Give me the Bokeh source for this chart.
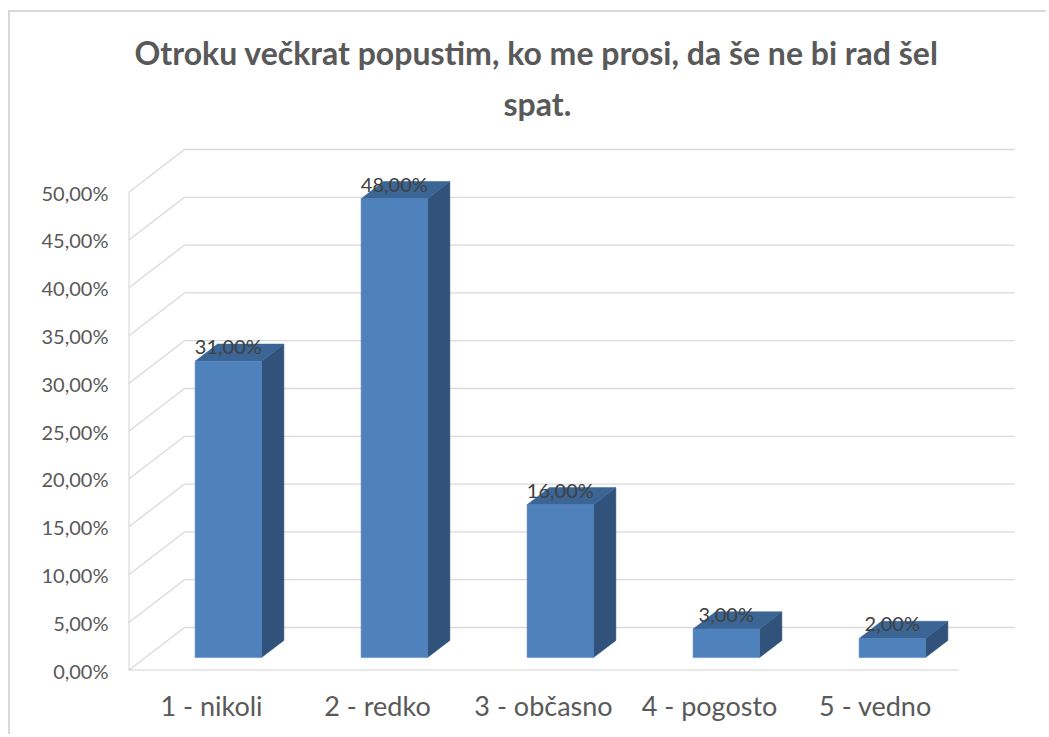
from bokeh.plotting import figure
from bokeh.models import FixedTicker, Title
from bokeh.embed import file_html
from bokeh.resources import INLINE
from bokeh.core.properties import value

# ---------------- data ----------------
categories = ["1 - nikoli", "2 - redko", "3 - občasno", "4 - pogosto", "5 - vedno"]
percent = [31.0, 48.0, 16.0, 3.0, 2.0]
data_labels = ["31,00%", "48,00%", "16,00%", "3,00%", "2,00%"]
y_ticks = [0, 5, 10, 15, 20, 25, 30, 35, 40, 45, 50]
y_tick_labels = ["0,00%", "5,00%", "10,00%", "15,00%", "20,00%", "25,00%",
                 "30,00%", "35,00%", "40,00%", "45,00%", "50,00%"]
title_lines = ["Otroku večkrat popustim, ko me prosi, da še ne bi rad šel", "spat."]

# ---------------- geometry / style ----------------
PX_PER_CAT = 166.0
PX_PER_PCT = 9.56
DEPTH_X = 56.0 / PX_PER_CAT   # oblique depth offset in category units
DEPTH_Y = 43.0 / PX_PER_PCT   # oblique depth offset in percent units
F0, F1 = 0.30, 0.70           # bar front / back depth fraction
BAR_W = 0.40

OFF_X, OFF_Y = 10, 12         # chart area starts just inside its border
W, H = 1038, 724
LEFT, BOTTOM, TOP = 128 - OFF_X, 670 - OFF_Y, 130 - OFF_Y
BOTTOM = H - BOTTOM
frame_w = W - LEFT
frame_h = H - BOTTOM - TOP

FONT = "Lato"
GRID = "#d9d9d9"
TXT = "#595959"
FRONT = "#4f81bd"
TOPC = "#3a6594"
SIDE = "#31527b"

p = figure(width=W, height=H, output_backend="svg", toolbar_location=None,
           x_range=(0, frame_w / PX_PER_CAT), y_range=(0, frame_h / PX_PER_PCT),
           min_border_left=LEFT, min_border_right=0, min_border_bottom=BOTTOM,
           min_border_top=TOP, outline_line_color=None)
p.styles = {"margin-left": f"{OFF_X}px", "margin-top": f"{OFF_Y}px",
            "box-shadow": "-2px -2px 0 0 #d9d9d9"}
p.xgrid.visible = False
p.ygrid.visible = False

ncat = len(categories)
ymax = y_ticks[-1]

# back wall gridlines
p.multi_line(xs=[[DEPTH_X, ncat + DEPTH_X] for _ in y_ticks],
             ys=[[t + DEPTH_Y, t + DEPTH_Y] for t in y_ticks],
             line_color=GRID, line_width=1.3)
# side wall diagonals
p.multi_line(xs=[[0, DEPTH_X] for _ in y_ticks],
             ys=[[t, t + DEPTH_Y] for t in y_ticks],
             line_color=GRID, line_width=1.3)
# front edges (value axis line and floor front edge)
p.multi_line(xs=[[0, 0], [0, ncat]], ys=[[0, ymax], [0, 0]],
             line_color="#d3d3d3", line_width=2)

# 3D bars
fx, fy, sx, sy, tx, ty = [], [], [], [], [], []
lx, ly = [], []
for i, v in enumerate(percent):
    xl = i + 0.5 - BAR_W / 2
    xr = i + 0.5 + BAR_W / 2
    a0x, a0y = F0 * DEPTH_X, F0 * DEPTH_Y
    a1x, a1y = F1 * DEPTH_X, F1 * DEPTH_Y
    fx.append([xl + a0x, xr + a0x, xr + a0x, xl + a0x])
    fy.append([a0y, a0y, v + a0y, v + a0y])
    sx.append([xr + a0x, xr + a1x, xr + a1x, xr + a0x])
    sy.append([a0y, a1y, v + a1y, v + a0y])
    tx.append([xl + a0x, xr + a0x, xr + a1x, xl + a1x])
    ty.append([v + a0y, v + a0y, v + a1y, v + a1y])
    lx.append(i + 0.5 + a0x)
    ly.append(v + a0y)

p.patches(xs=sx, ys=sy, fill_color=SIDE, line_color=SIDE, line_width=0.5)
p.patches(xs=tx, ys=ty, fill_color=TOPC, line_color=TOPC, line_width=0.5)
p.patches(xs=fx, ys=fy, fill_color=FRONT, line_color=FRONT, line_width=0.5)

p.text(x=lx, y=ly, text=data_labels, text_align="center", text_baseline="alphabetic",
       y_offset=-15, text_font=value(FONT), text_font_size="20px", text_color="#404040")

# axes
p.yaxis.ticker = FixedTicker(ticks=y_ticks)
p.yaxis.major_label_overrides = {t: s for t, s in zip(y_ticks, y_tick_labels)}
p.yaxis.axis_line_color = None
p.yaxis.major_tick_line_color = None
p.yaxis.minor_tick_line_color = None
p.yaxis.major_label_standoff = 14
p.yaxis.major_label_text_font = FONT
p.yaxis.major_label_text_font_size = "20px"
p.yaxis.major_label_text_color = TXT

cat_pos = [i + 0.5 for i in range(ncat)]
p.xaxis.ticker = FixedTicker(ticks=cat_pos)
p.xaxis.major_label_overrides = {c: s for c, s in zip(cat_pos, categories)}
p.xaxis.axis_line_color = None
p.xaxis.major_tick_line_color = None
p.xaxis.minor_tick_line_color = None
p.xaxis.major_label_standoff = 12
p.xaxis.major_label_text_font = FONT
p.xaxis.major_label_text_font_size = "27px"
p.xaxis.major_label_text_color = TXT

# title (two lines, nearest to frame added first)
title_offsets = [6, 375]
title_standoffs = [4, 16]
for line, off, so in reversed(list(zip(title_lines, title_offsets, title_standoffs))):
    p.add_layout(Title(text=line, align="left", offset=off, standoff=so,
                       text_font=FONT, text_font_size="32px", text_font_style="bold",
                       text_color=TXT), "above")

open("out.html", "w").write(file_html(p, INLINE))
